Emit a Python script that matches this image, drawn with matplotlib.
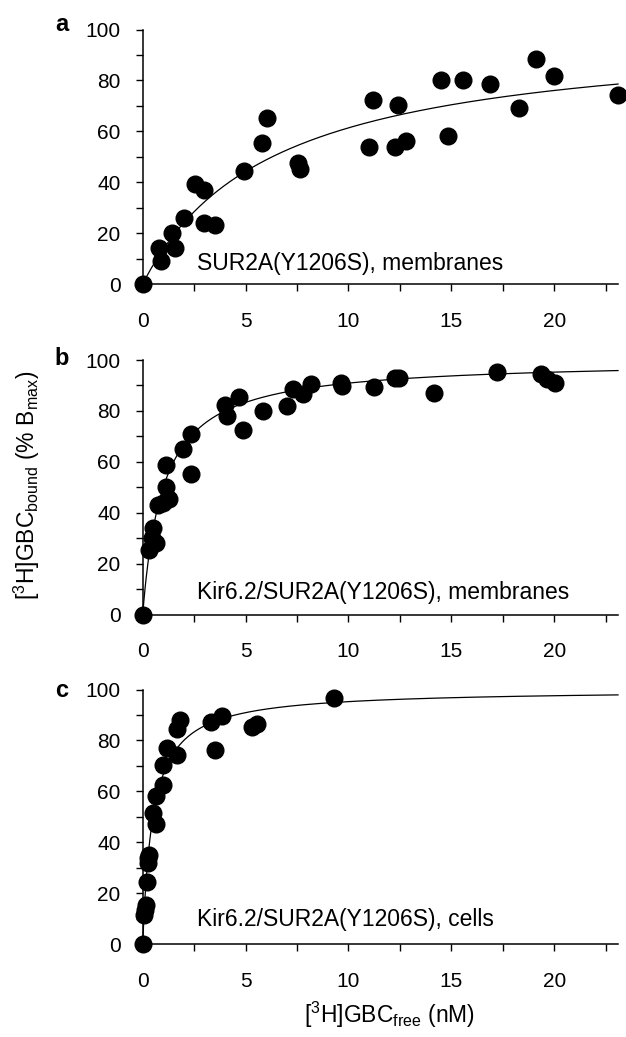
import numpy as np
import matplotlib
matplotlib.use("Agg")
import matplotlib.pyplot as plt

plt.rcParams['font.family'] = ['Liberation Sans', 'DejaVu Sans']
plt.rcParams['mathtext.fontset'] = 'custom'
plt.rcParams['mathtext.rm'] = 'Liberation Sans'
plt.rcParams['mathtext.it'] = 'Liberation Sans:italic'
plt.rcParams['mathtext.bf'] = 'Liberation Sans:bold'

# panel a: SUR2A(Y1206S), membranes
a_free = [0, 0.78, 0.87, 1.44, 1.59, 2.02, 2.56, 2.99, 2.99, 3.50, 4.93, 5.79, 6.02,
          7.57, 7.65, 11.01, 11.2, 12.27, 12.4, 12.82, 14.5, 14.83, 15.57, 16.89,
          18.28, 19.1, 20.0, 23.1]
a_bound = [0, 14.3, 9.1, 20.2, 14.3, 26, 39.3, 37.1, 24.1, 23, 44.3, 55.3, 65.1,
           47.5, 45.2, 54, 72.3, 54, 70.3, 56.3, 80.3, 58.3, 80.3, 78.4,
           69.3, 88.6, 81.6, 74.4]

# panel b: Kir6.2/SUR2A(Y1206S), membranes
b_free = [0, 0.33, 0.43, 0.52, 0.66, 0.72, 1.01, 1.11, 1.11, 1.30, 1.98, 2.37, 2.37,
          3.98, 4.12, 4.66, 4.89, 5.86, 7.03, 7.32, 7.77, 8.19, 9.65, 9.71, 11.26,
          12.27, 12.47, 14.17, 17.22, 19.36, 19.65, 20.04]
b_bound = [0, 25.4, 30, 33.9, 28, 43, 43.9, 58.6, 50.1, 45.2, 65.1, 55.1, 71,
           82.4, 78.1, 85.3, 72.3, 80.1, 82, 88.5, 86.8, 90.5, 91.1, 89.8, 89.2,
           93.1, 93.1, 87.2, 95.3, 94.4, 92.4, 91.1]

# panel c: Kir6.2/SUR2A(Y1206S), cells
c_free = [0, 0.08, 0.12, 0.14, 0.23, 0.27, 0.27, 0.29, 0.52, 0.66, 0.66, 0.97, 0.97,
          1.17, 1.69, 1.69, 1.83, 3.34, 3.53, 3.83, 5.32, 5.57, 9.32]
c_bound = [0, 11.4, 13.3, 15.3, 24.2, 32, 33.9, 34.9, 51.4, 47.3, 58.2, 62.4, 70.2,
           77.1, 74.1, 84.3, 88.2, 87.3, 76.2, 89.5, 85.2, 86.3, 96.5]

# one-site fit parameters (Bmax in %, Kd in nM)
bmax = [100, 100, 100]
kd = [6.3, 1.0, 0.5]

labels = ['SUR2A(Y1206S), membranes',
          'Kir6.2/SUR2A(Y1206S), membranes',
          'Kir6.2/SUR2A(Y1206S), cells']
panel_letters = ['a', 'b', 'c']
label_y = [5.6, 5.9, 7.0]

fig = plt.figure(figsize=(6.26, 10.37), dpi=100)
W, H = 626, 1037
x_left, x_right = 142.7, 618
tops = [29.5, 360, 689.5]
h_px = 254.5

datasets = [(a_free, a_bound), (b_free, b_bound), (c_free, c_bound)]
letter_base = [31, 365, 697]

for i, (xs, ys) in enumerate(datasets):
    bottom = 1 - (tops[i] + h_px) / H
    ax = fig.add_axes([x_left / W, bottom, (x_right - x_left) / W, h_px / H])
    # fitted one-site binding curve
    xx = np.linspace(0, 23.1, 400)
    ax.plot(xx, bmax[i] * xx / (kd[i] + xx), color='black', lw=0.9, clip_on=False)
    ax.plot(xs, ys, 'o', color='black', ms=12, clip_on=False, zorder=5)
    ax.set_xlim(0, 23.1)
    ax.set_ylim(0, 100)
    for s in ['top', 'right']:
        ax.spines[s].set_visible(False)
    for s in ['left', 'bottom']:
        ax.spines[s].set_linewidth(1.1)
    ax.set_xticks([0, 5, 10, 15, 20])
    ax.set_xticks(np.arange(2.5, 23, 5), minor=True)
    ax.set_yticks([0, 20, 40, 60, 80, 100])
    ax.set_yticks([10, 30, 50, 70, 90], minor=True)
    ax.tick_params(which='both', direction='out', length=5, width=1, labelsize=15)
    ax.tick_params(axis='x', which='both', pad=15)
    ax.tick_params(axis='y', which='both', pad=11)
    ax.text(2.64, label_y[i], labels[i], fontsize=16.5, ha='left', va='baseline')
    fig.text(62 / W, 1 - letter_base[i] / H, panel_letters[i], fontsize=17,
             fontweight='bold', ha='center', va='baseline')

fig.text(27 / W, 1 - 485 / H, r'[$^{3}$H]GBC$_{\mathrm{bound}}$ (% B$_{\mathrm{max}}$)',
         rotation=90, fontsize=16.5, ha='center', va='center')
fig.text(389 / W, 1 - 1023 / H, r'[$^{3}$H]GBC$_{\mathrm{free}}$ (nM)',
         fontsize=16.5, ha='center', va='baseline')

fig.savefig('out.png', dpi=100)
